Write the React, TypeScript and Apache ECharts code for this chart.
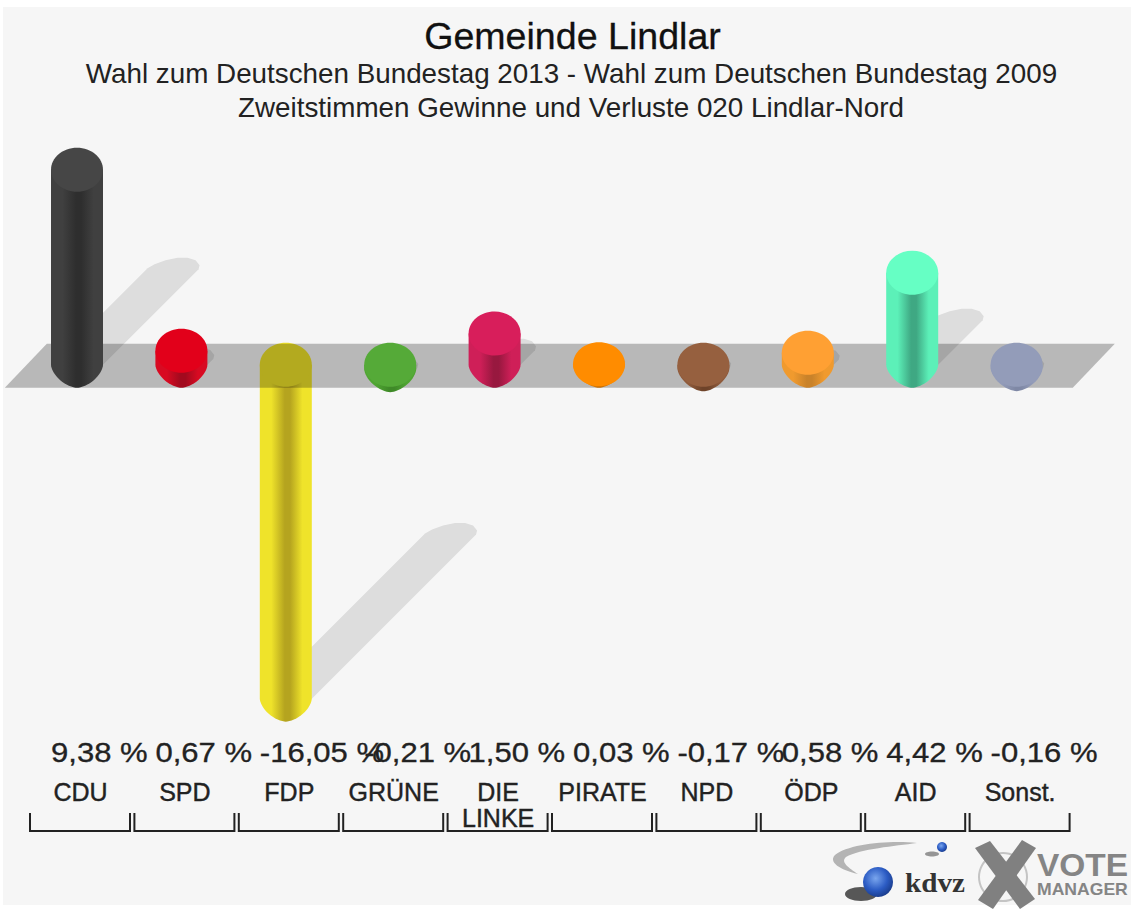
import React, { useEffect, useRef } from "react";
import * as echarts from "echarts";

const titleText = "Gemeinde Lindlar";
const subtitleOne = "Wahl zum Deutschen Bundestag 2013 - Wahl zum Deutschen Bundestag 2009";
const subtitleTwo = "Zweitstimmen Gewinne und Verluste 020 Lindlar-Nord";

const parties = ["CDU", "SPD", "FDP", "GRÜNE", "DIE\nLINKE", "PIRATE", "NPD", "ÖDP", "AID", "Sonst."];
const changes = [9.38, 0.67, -16.05, -0.21, 1.5, 0.03, -0.17, 0.58, 4.42, -0.16];
const valueLabels = ["9,38 %", "0,67 %", "-16,05 %", "-0,21 %", "1,50 %", "0,03 %", "-0,17 %", "0,58 %", "4,42 %", "-0,16 %"];

const capColors = ["#464646", "#e2001a", "#efe32a", "#55aa38", "#d81e5b", "#ff8c00", "#96603f", "#ffa033", "#66ffc4", "#939cb9"];
const edgeColors = ["#404040", "#d80a22", "#efe32a", "#4fa532", "#cf1f58", "#f58a05", "#8e5a3b", "#f09a2e", "#5cf0b8", "#939cb9"];
const coreColors = ["#2e2e2e", "#a20a1e", "#b5a41f", "#3f8a28", "#98183f", "#c97006", "#6e4329", "#c9822a", "#3fa883", "#7f88a5"];

const RX = 26;
const RY = 22;
const FONT = "'Liberation Sans', Arial, sans-serif";

const rows = changes.map((v, i) => [i, v]);
const deepRows = rows.filter((r) => r[1] < -1);
const frontRows = rows.filter((r) => r[1] >= -1);

function gradient(i: number) {
  return new echarts.graphic.LinearGradient(0, 0, 1, 0, [
    { offset: 0, color: edgeColors[i] },
    { offset: 0.22, color: edgeColors[i] },
    { offset: 0.48, color: coreColors[i] },
    { offset: 0.58, color: coreColors[i] },
    { offset: 0.82, color: edgeColors[i] },
    { offset: 1, color: edgeColors[i] },
  ]);
}

function bodyOutline(cx: number, top: number, bot: number) {
  const points: number[][] = [[cx - RX, top], [cx + RX, top]];
  const n = 1.65;
  for (let k = 0; k <= 32; k++) {
    const t = (Math.PI * k) / 32;
    const c = Math.cos(t);
    const s = Math.sin(t);
    points.push([cx + RX * Math.sign(c) * Math.pow(Math.abs(c), 2 / n), bot + (RY + 1) * Math.pow(s, 2 / n)]);
  }
  return points;
}

function renderBar(_: any, api: any) {
  const i = api.value(0);
  const v = api.value(1);
  const [cx, y0] = api.coord([i, 0]);
  const y1 = api.coord([i, v])[1];
  const top = Math.min(y0, y1);
  const bot = Math.max(y0, y1);
  return {
    type: "group",
    children: [
      { type: "polygon", shape: { points: bodyOutline(cx, top, bot) }, style: { fill: gradient(i) } },
      { type: "ellipse", shape: { cx, cy: top, rx: RX, ry: RY }, style: { fill: capColors[i] } },
    ],
  };
}

function renderShadow(_: any, api: any) {
  const i = api.value(0);
  const v = api.value(1);
  const [cx, y0] = api.coord([i, 0]);
  const y1 = api.coord([i, v])[1];
  const h = Math.abs(y1 - y0);
  const base = Math.max(y0, y1);
  const d = h * 0.495;
  const l = cx - RX;
  const r = cx + RX;
  const e = base - d;
  const points = [
    [l, base],
    [l + d, e],
    [l + d + 7, e - 4],
    [l + d + 18, e - 8],
    [l + d + 30, e - 10.5],
    [l + d + 40, e - 10.5],
    [l + d + 48, e - 8],
    [r + d, e - 3],
    [r + d - 1, e + 1],
    [r, base],
  ];
  return { type: "polygon", shape: { points }, style: { fill: "rgba(0,0,0,0.1)" } };
}

function renderBand(params: any, api: any) {
  const cs = params.coordSys;
  const y0 = api.coord([0, 0])[1];
  const back = y0 - 21;
  const front = y0 + 23;
  const left = cs.x;
  const right = cs.x + cs.width;
  return {
    type: "polygon",
    shape: { points: [[left - 20, front], [left + 22, back], [right + 46, back], [right + 4, front]] },
    style: { fill: "rgba(0,0,0,0.25)" },
  };
}

function renderBracket(_: any, api: any) {
  const cx = api.coord([api.value(0), 0])[0];
  return {
    type: "polyline",
    shape: { points: [[cx - 47, 813], [cx - 47, 831], [cx + 53, 831], [cx + 53, 813]] },
    style: { fill: "none", stroke: "#222", lineWidth: 2 },
  };
}

function renderValueLabel(_: any, api: any) {
  const i = api.value(0);
  const cx = api.coord([i, 0])[0];
  return {
    type: "text",
    x: cx - 26,
    y: 753,
    scaleX: 1.15,
    style: {
      text: valueLabels[i],
      fontFamily: FONT,
      fontSize: 27,
      fill: "#222",
      stroke: "#222",
      lineWidth: 0.3,
      textAlign: "left",
      textVerticalAlign: "middle",
    },
  };
}

const swoosh = "M917 843C890 840 848 844 835 855C828 862 840 870 858 874C849 868 840 862 846 857C860 849 895 846 917 843Z";
const xOne = "M975 848L990 841L1035 899L1020 909Z";
const xTwo = "M1022 840L1036 848L993 909L978 900Z";
echarts.graphic.registerShape("swoosh", echarts.graphic.extendPath(swoosh, {}));
echarts.graphic.registerShape("xOne", echarts.graphic.extendPath(xOne, {}));
echarts.graphic.registerShape("xTwo", echarts.graphic.extendPath(xTwo, {}));

const ball = (cx: number, cy: number, r: number) => ({
  type: "circle",
  shape: { cx, cy, r },
  style: {
    fill: new echarts.graphic.RadialGradient(0.42, 0.38, 0.7, [
      { offset: 0, color: "#7aa6ee" },
      { offset: 0.55, color: "#2c5cc4" },
      { offset: 1, color: "#16357f" },
    ]),
  },
});

const logos = [
  { type: "swoosh", style: { fill: "#b4b4b4" } },
  { type: "ellipse", shape: { cx: 932, cy: 854, rx: 7, ry: 2.5 }, style: { fill: "#555", opacity: 0.6 } },
  ball(942, 847, 5),
  { type: "ellipse", shape: { cx: 861, cy: 894, rx: 16, ry: 7 }, style: { fill: "#222", opacity: 0.75 } },
  ball(878, 882, 15),
  {
    type: "text",
    x: 905,
    y: 883,
    scaleX: 1.08,
    style: { text: "kdvz", fontFamily: "'Liberation Serif', serif", fontWeight: "bold", fontSize: 27, fill: "#333", textAlign: "left", textVerticalAlign: "middle" },
  },
  { type: "ring", shape: { cx: 1003, cy: 877, r: 25, r0: 23 }, style: { fill: "#c4c4c4" } },
  { type: "xOne", style: { fill: "#808080" } },
  { type: "xTwo", style: { fill: "#808080" } },
  {
    type: "text",
    x: 1037,
    y: 865,
    scaleX: 1.08,
    style: { text: "VOTE", fontFamily: FONT, fontWeight: "bold", fontSize: 31, fill: "#858585", textAlign: "left", textVerticalAlign: "middle" },
  },
  {
    type: "text",
    x: 1037,
    y: 890,
    scaleX: 1.1,
    style: { text: "MANAGER", fontFamily: FONT, fontWeight: "bold", fontSize: 16, fill: "#858585", textAlign: "left", textVerticalAlign: "middle" },
  },
];

export default function App() {
  const ref = useRef<HTMLDivElement>(null);
  useEffect(() => {
    const chart = echarts.init(ref.current!, null, { renderer: "svg" });
    const custom = (renderItem: any, data: any[], z: number) => ({
      type: "custom",
      coordinateSystem: "cartesian2d",
      encode: { x: 0, y: 1 },
      silent: true,
      clip: false,
      data,
      renderItem,
      z,
    });
    chart.setOption({
      animation: false,
      backgroundColor: "transparent",
      title: [
        { text: titleText, left: 567.5, top: 12, textAlign: "center", textStyle: { fontFamily: FONT, fontSize: 37.6, fontWeight: "normal", color: "#111", textBorderColor: "#111", textBorderWidth: 0.3 } },
        { text: subtitleOne, left: 566.5, top: 54, textAlign: "center", textStyle: { fontFamily: FONT, fontSize: 27.8, fontWeight: "normal", color: "#222" } },
        { text: subtitleTwo, left: 566, top: 88, textAlign: "center", textStyle: { fontFamily: FONT, fontSize: 27.8, fontWeight: "normal", color: "#222" } },
      ],
      grid: { left: 24.8, width: 1044, top: 136, height: 603.2 },
      xAxis: {
        type: "category",
        data: parties,
        axisLine: { show: false },
        axisTick: { show: false },
        axisLabel: {
          interval: 0,
          margin: 40,
          fontFamily: FONT,
          fontSize: 25,
          lineHeight: 26,
          color: "#222",
          textBorderColor: "#222",
          textBorderWidth: 0.4,
          padding: [0, 0, 0, 7],
        },
      },
      yAxis: { type: "value", min: -18, max: 11, show: false, splitLine: { show: false } },
      graphic: logos,
      series: [
        custom(renderShadow, rows, 1),
        custom(renderBar, deepRows, 2),
        custom(renderBand, [[0, 0]], 3),
        custom(renderBar, frontRows, 4),
        custom(renderBracket, rows, 5),
        custom(renderValueLabel, rows, 6),
      ],
    });
    return () => chart.dispose();
  }, []);
  return (
    <div style={{ position: "fixed", left: 0, top: 0, width: 1131, height: 909, background: "#fff" }}>
      <div style={{ position: "absolute", left: 3, top: 7, width: 1128, height: 898, background: "#f6f6f6" }} />
      <div ref={ref} style={{ position: "absolute", left: 0, top: 0, width: 1131, height: 909 }} />
    </div>
  );
}
